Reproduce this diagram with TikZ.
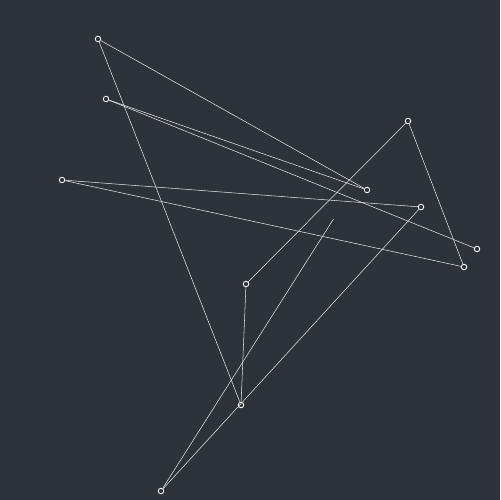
\documentclass[tikz,border=0pt]{standalone}
\usepackage{xcolor}
\usepackage{tikz}
\definecolor{canvas}{HTML}{2D3338}
\definecolor{linecol}{HTML}{E6E8EA}

\begin{document}
\begin{tikzpicture}[
  x=0.02cm, y=-0.02cm,
  pt/.style={draw=white, fill=canvas, circle, inner sep=0pt,
             minimum size=0.11cm, line width=0.5pt},
  edge/.style={draw=linecol, line width=0.3pt}
]
  % Background
  \fill[canvas] (0,0) rectangle (500,500);
  \useasboundingbox (0,0) rectangle (500,500);

  % Points
  \node[pt] (a) at (98,39) {};
  \node[pt] (b) at (106,99) {};
  \node[pt] (c) at (62,180) {};
  \node[pt] (d) at (367,190) {};
  \node[pt] (e) at (408,121) {};
  \node[pt] (f) at (421,207) {};
  \node[pt] (g) at (477,249) {};
  \node[pt] (h) at (464,267) {};
  \node[pt] (i) at (246,284) {};
  \node[pt] (j) at (241,405) {};
  \node[pt] (k) at (161,491) {};
  \coordinate (l) at (333.5,219);

  % Edges
  \draw[edge] (a) -- (d);
  \draw[edge] (a) -- (j);
  \draw[edge] (b) -- (d);
  \draw[edge] (b) -- (g);
  \draw[edge] (c) -- (f);
  \draw[edge] (c) -- (h);
  \draw[edge] (e) -- (h);
  \draw[edge] (e) -- (i);
  \draw[edge] (i) -- (j);
  \draw[edge] (k) -- (f);
  \draw[edge] (k) -- (l);
\end{tikzpicture}
\end{document}
